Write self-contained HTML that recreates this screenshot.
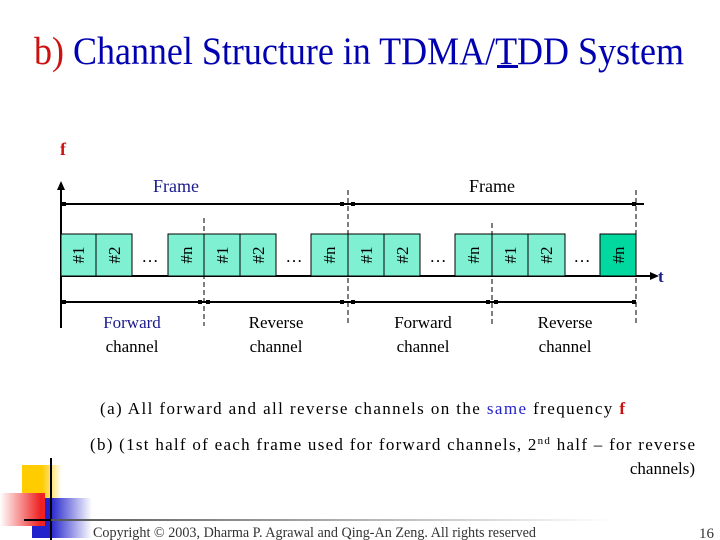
<!DOCTYPE html>
<html><head><meta charset="utf-8"><style>
html,body{margin:0;padding:0;background:#fff;}
svg{display:block;font-family:"Liberation Serif",serif;}
</style></head><body>
<svg width="720" height="540" viewBox="0 0 720 540" xmlns="http://www.w3.org/2000/svg">
<defs>
<linearGradient id="gl" x1="0" x2="1"><stop offset="0" stop-color="#555"/><stop offset="1" stop-color="#fff"/></linearGradient>
<linearGradient id="gy" x1="0" x2="1"><stop offset="0.5" stop-color="#ffcc00"/><stop offset="1" stop-color="#fff"/></linearGradient>
<linearGradient id="gr" x1="1" x2="0"><stop offset="0.1" stop-color="#ee2222"/><stop offset="1" stop-color="#fff"/></linearGradient>
<linearGradient id="gb" x1="0" x2="1"><stop offset="0.3" stop-color="#2222cc"/><stop offset="1" stop-color="#fff"/></linearGradient>
</defs>
<text x="34" y="64" font-size="39" textLength="650" lengthAdjust="spacingAndGlyphs"><tspan fill="#cc1111">b)</tspan><tspan fill="#0000b0"> Channel Structure in TDMA/TDD System</tspan></text>
<rect x="497" y="65" width="21" height="3" fill="#0000b0"/>
<text x="60" y="155" font-size="18" font-weight="bold" fill="#cc1111">f</text>

<line x1="61" y1="188" x2="61" y2="328" stroke="#000" stroke-width="2"/>
<polygon points="61,181 57,190 65,190" fill="#000"/>
<text x="153" y="192" font-size="18" fill="#1a1a8c">Frame</text>
<text x="469" y="192" font-size="18" fill="#000">Frame</text>
<line x1="64" y1="204" x2="644" y2="204" stroke="#000" stroke-width="2"/>
<line x1="64" y1="302" x2="636" y2="302" stroke="#000" stroke-width="2"/>
<g fill="#000">
<rect x="62" y="202" width="4" height="4"/><rect x="340" y="202" width="4" height="4"/><rect x="351" y="202" width="4" height="4"/><rect x="632" y="202" width="4" height="4"/>
<rect x="62" y="300" width="4" height="4"/><rect x="198" y="300" width="4" height="4"/><rect x="206" y="300" width="4" height="4"/><rect x="340" y="300" width="4" height="4"/><rect x="351" y="300" width="4" height="4"/><rect x="486" y="300" width="4" height="4"/><rect x="494" y="300" width="4" height="4"/><rect x="632" y="300" width="4" height="4"/>
</g>
<line x1="61" y1="276" x2="652" y2="276" stroke="#000" stroke-width="2"/>
<polygon points="659,276 650,272 650,280" fill="#000"/>
<text x="658" y="282" font-size="17" font-weight="bold" fill="#1a1a8c">t</text>

<g stroke="#000" stroke-width="1" stroke-dasharray="5,3">
<line x1="204" y1="218" x2="204" y2="326"/>
<line x1="348" y1="190" x2="348" y2="326"/>
<line x1="492" y1="223" x2="492" y2="326"/>
<line x1="636" y1="190" x2="636" y2="326"/>
</g>

<g stroke="#000" stroke-width="1" fill="#7ff0d2">
<rect x="61" y="234" width="35" height="42"/><rect x="96" y="234" width="36" height="42"/><rect x="168" y="234" width="36" height="42"/>
<rect x="204" y="234" width="36" height="42"/><rect x="240" y="234" width="36" height="42"/><rect x="311" y="234" width="37" height="42"/>
<rect x="348" y="234" width="36" height="42"/><rect x="384" y="234" width="36" height="42"/><rect x="455" y="234" width="37" height="42"/>
<rect x="492" y="234" width="36" height="42"/><rect x="528" y="234" width="37" height="42"/><rect x="600" y="234" width="36" height="42" fill="#00d8a0"/>
</g>
<g font-size="17" fill="#000" text-anchor="middle">
<text transform="translate(84,255) rotate(-90)">#1</text>
<text transform="translate(120,255) rotate(-90)">#2</text>
<text transform="translate(192,255) rotate(-90)">#n</text>
<text transform="translate(228,255) rotate(-90)">#1</text>
<text transform="translate(264,255) rotate(-90)">#2</text>
<text transform="translate(335,255) rotate(-90)">#n</text>
<text transform="translate(372,255) rotate(-90)">#1</text>
<text transform="translate(408,255) rotate(-90)">#2</text>
<text transform="translate(479,255) rotate(-90)">#n</text>
<text transform="translate(516,255) rotate(-90)">#1</text>
<text transform="translate(552,255) rotate(-90)">#2</text>
<text transform="translate(624,255) rotate(-90)">#n</text>
<text x="150" y="262">…</text><text x="294" y="262">…</text><text x="438" y="262">…</text><text x="582" y="262">…</text>
<text x="132" y="328" fill="#1a1a8c">Forward</text><text x="132" y="352">channel</text>
<text x="276" y="328">Reverse</text><text x="276" y="352">channel</text>
<text x="423" y="328">Forward</text><text x="423" y="352">channel</text>
<text x="565" y="328">Reverse</text><text x="565" y="352">channel</text>
</g>

<text x="100" y="414" font-size="17" fill="#000" textLength="525" lengthAdjust="spacing">(a)   All forward and all reverse channels on the <tspan fill="#2222cc">same</tspan> frequency <tspan fill="#cc1111" font-weight="bold">f</tspan></text>
<text x="90" y="450" font-size="17" fill="#000" textLength="605" lengthAdjust="spacing">(b)   (1st half of each frame used for forward channels, 2<tspan font-size="11" dy="-6">nd</tspan><tspan dy="6"> half – for reverse</tspan></text>
<text x="695" y="474" font-size="17" fill="#000" text-anchor="end">channels)</text>

<rect x="22" y="465" width="40" height="35" fill="url(#gy)"/>
<rect x="32" y="498" width="60" height="40" fill="url(#gb)"/>
<rect x="0" y="493" width="45" height="33" fill="url(#gr)"/>
<line x1="51" y1="458" x2="51" y2="540" stroke="#000" stroke-width="2"/>
<line x1="24" y1="520" x2="51" y2="520" stroke="#000" stroke-width="2"/>
<rect x="51" y="519" width="560" height="2" fill="url(#gl)"/>
<text x="93" y="537" font-size="15" fill="#333" textLength="443" lengthAdjust="spacingAndGlyphs">Copyright © 2003, Dharma P. Agrawal and Qing-An Zeng. All rights reserved</text>
<text x="699" y="538" font-size="15" fill="#333">16</text>
</svg>
</body></html>
